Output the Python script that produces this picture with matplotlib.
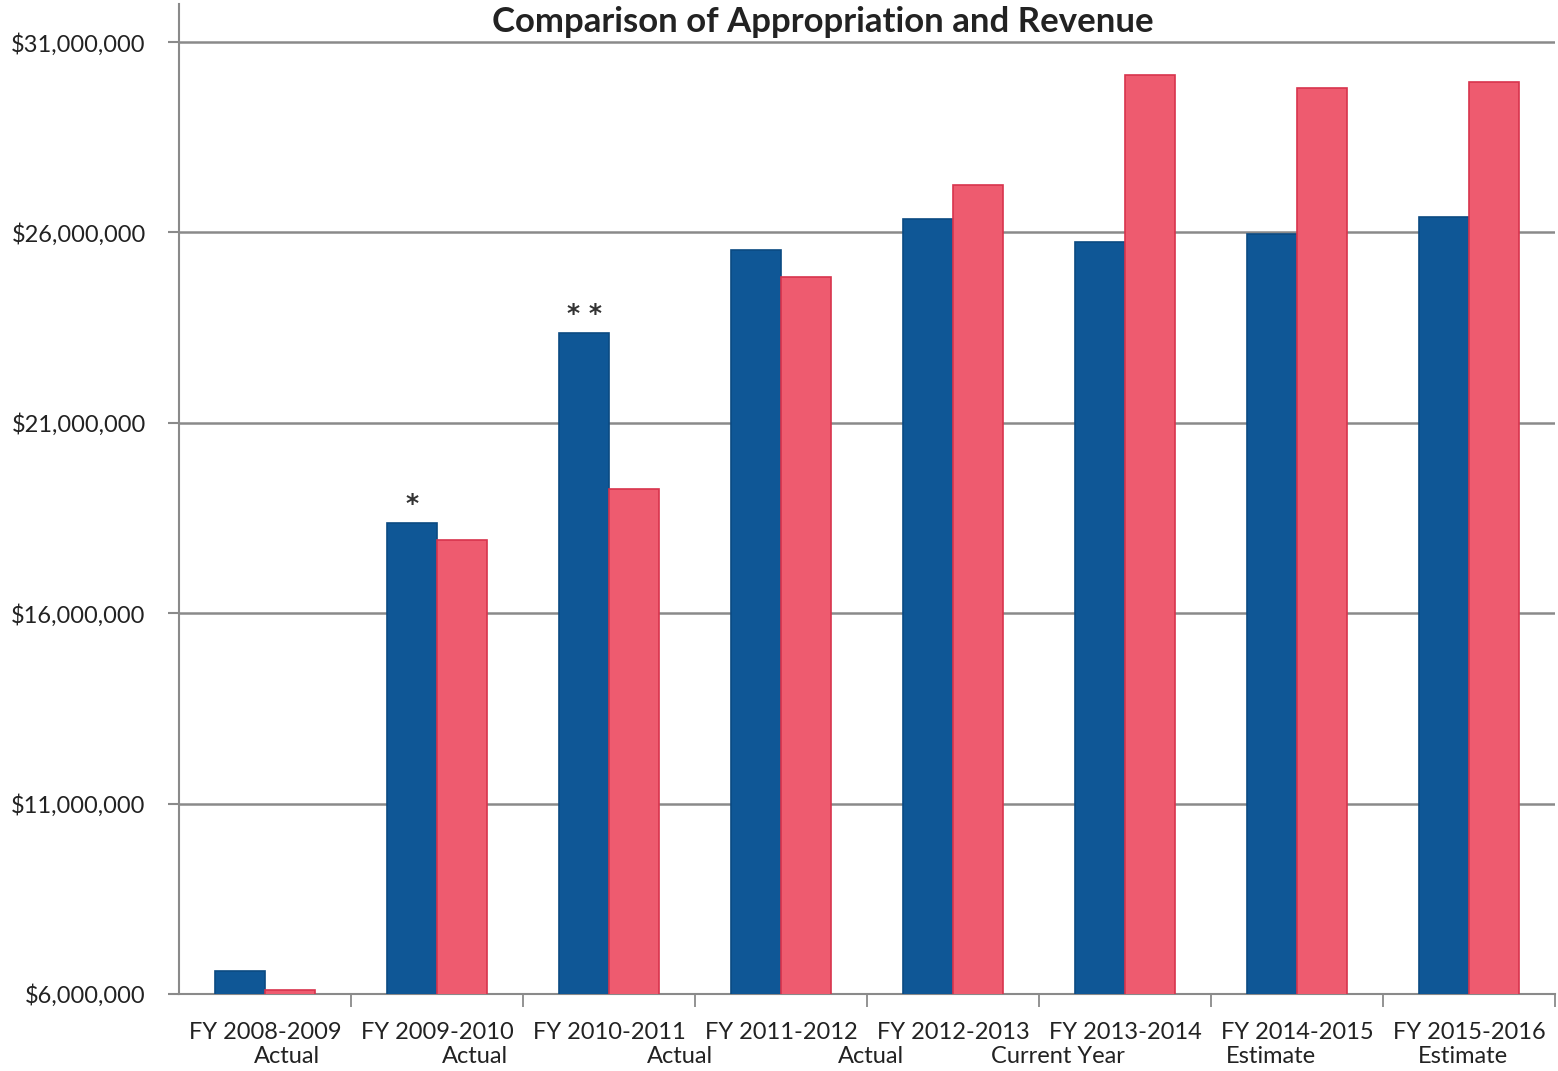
import matplotlib
matplotlib.use("Agg")
import matplotlib.pyplot as plt
from matplotlib.ticker import FuncFormatter, FixedLocator
import numpy as np

plt.rcParams["font.family"] = ["Lato", "DejaVu Sans"]

FISCAL_YEARS = ["FY 2008-2009", "FY 2009-2010", "FY 2010-2011", "FY 2011-2012",
                "FY 2012-2013", "FY 2013-2014", "FY 2014-2015", "FY 2015-2016"]
STATUS = ["Actual", "Actual", "Actual", "Actual", "", "Current Year", "Estimate", "Estimate"]
APPROPRIATION = [6.60e6, 18.38e6, 23.37e6, 25.55e6, 26.35e6, 25.76e6, 25.96e6, 26.40e6]
REVENUE = [6.10e6, 17.91e6, 19.27e6, 24.84e6, 27.24e6, 30.13e6, 29.79e6, 29.95e6]
FOOTNOTES = ["", "*", "**", "", "", "", "", ""]

BLUE = "#0f5796"
BLUE_EDGE = "#0b4a82"
PINK = "#ee5b6f"
PINK_EDGE = "#d8344d"
GRID = "#8a8a8a"

# horizontal nudges (points) for the wrapped second line of each category label
STATUS_SHIFT = [16, 27, 51, 65, 0, -48, -19, -4]


def dollars(value, _pos=None):
    return f"${value:,.0f}"


fig = plt.figure(figsize=(15.58, 10.71), dpi=100)
ax = fig.add_axes([0.1149, 0.0719, 0.8831, 0.9244])

x = np.arange(len(FISCAL_YEARS))
width = 0.29
ax.bar(x - width / 2, APPROPRIATION, width, color=BLUE, edgecolor=BLUE_EDGE,
       linewidth=1.2, zorder=3)
ax.bar(x + width / 2, REVENUE, width, color=PINK, edgecolor=PINK_EDGE,
       linewidth=1.2, zorder=3)

for xi, val, mark in zip(x, APPROPRIATION, FOOTNOTES):
    if mark:
        ax.annotate(" ".join(mark), (xi - width / 2, val), xytext=(0, 5),
                    textcoords="offset points", ha="center", va="bottom",
                    fontsize=18, fontweight="bold", color="#333333",
                    family="DejaVu Sans")

ax.set_xlim(-0.5, len(FISCAL_YEARS) - 0.5)
ax.set_ylim(6e6, 32e6)
ax.yaxis.set_major_locator(FixedLocator(np.arange(6e6, 31.5e6, 5e6)))
ax.yaxis.set_major_formatter(FuncFormatter(dollars))
ax.yaxis.grid(True, color=GRID, linewidth=1.8, zorder=0)
ax.set_axisbelow(True)

ax.set_xticks(x)
ax.set_xticklabels(FISCAL_YEARS)
ax.xaxis.set_minor_locator(FixedLocator(np.arange(0.5, len(FISCAL_YEARS), 1.0)))
ax.tick_params(axis="x", which="major", length=0, pad=20, labelsize=17, labelcolor="#222222")
ax.tick_params(axis="x", which="minor", length=9, width=1.3, color=GRID, direction="out")
ax.tick_params(axis="y", length=8, width=1.5, color=GRID, pad=16, labelsize=17,
               labelcolor="#222222")

for xi, status, shift in zip(x, STATUS, STATUS_SHIFT):
    if status:
        ax.annotate(status, (xi, 0), xycoords=("data", "axes fraction"),
                    xytext=(shift, -45), textcoords="offset points",
                    ha="center", va="center", fontsize=17, color="#222222")

for side in ("top", "right"):
    ax.spines[side].set_visible(False)
for side in ("left", "bottom"):
    ax.spines[side].set_color(GRID)
    ax.spines[side].set_linewidth(1.5)

fig.text(0.528, 0.979, "Comparison of Appropriation and Revenue", ha="center",
         va="center", fontsize=25, fontweight="bold", color="#222222")

fig.savefig("out.png", dpi=100, facecolor="white")
